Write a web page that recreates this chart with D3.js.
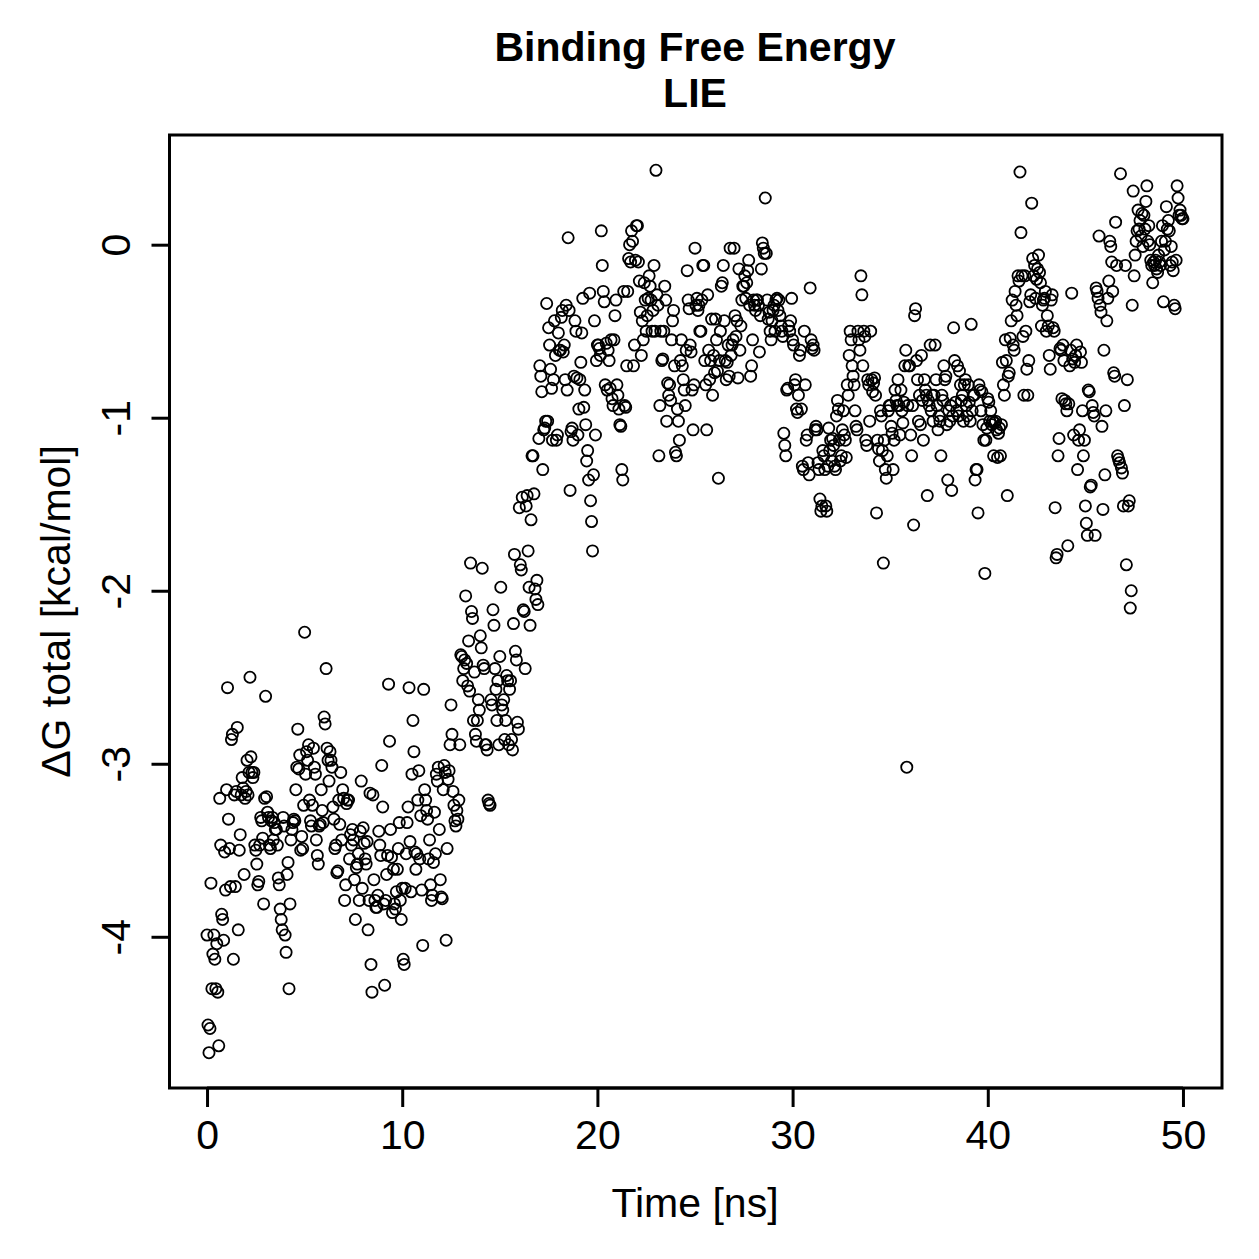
<!DOCTYPE html>
<html>
<head>
<meta charset="utf-8">
<script src="https://cdn.jsdelivr.net/npm/d3@7"></script>
<style>
  body { margin: 0; background: #fff; }
  svg text { font-family: "Liberation Sans", Arial, Helvetica, sans-serif; fill: #000; }
</style>
</head>
<body>
<div id="chart"></div>
<script>
/* values: one row per ns, samples every 0.05 ns */
const sampleStep = 0.05;

const dg0to10 = [
  [-3.99,-4.51,-4.67,-4.53,-3.69,-4.30,-4.10,-3.99,-4.13,-4.30,-4.04,-4.32,-4.63,-3.20,-3.47,-3.87,-3.90,-4.02,-3.51,-3.73],
  [-3.15,-2.56,-3.32,-3.49,-3.71,-2.86,-2.83,-4.13,-3.18,-3.71,-3.16,-2.79,-3.96,-3.50,-3.41,-3.18,-3.08,-3.14,-3.64,-3.20],
  [-3.16,-2.98,-3.18,-3.05,-2.50,-2.96,-3.05,-3.08,-3.05,-3.47,-3.50,-3.58,-3.70,-3.68,-3.47,-3.31,-3.33,-3.43,-3.81,-3.20],
  [-2.61,-3.19,-3.28,-3.31,-3.47,-3.49,-3.33,-3.31,-3.44,-3.34,-3.38,-3.38,-3.47,-3.66,-3.70,-3.84,-3.90,-3.96,-3.31,-3.36],
  [-3.99,-4.09,-3.64,-3.57,-4.30,-3.81,-3.44,-3.38,-3.34,-3.32,-3.33,-3.15,-3.02,-2.80,-3.03,-2.95,-3.50,-3.42,-3.49,-3.24],
  [-2.24,-3.06,-2.93,-2.98,-2.89,-3.21,-3.33,-3.36,-3.24,-2.91,-3.02,-3.06,-3.44,-3.53,-3.58,-3.36,-3.35,-3.15,-3.27,-3.34],
  [-2.73,-2.77,-2.45,-2.91,-2.98,-3.10,-2.93,-2.98,-3.02,-3.25,-3.32,-3.49,-3.47,-3.63,-3.62,-3.21,-3.35,-3.05,-3.44,-3.15],
  [-3.20,-3.79,-3.70,-3.23,-3.21,-3.21,-3.55,-3.41,-3.47,-3.38,-3.44,-3.67,-3.90,-3.60,-3.58,-3.52,-3.79,-3.39,-3.10,-3.72],
  [-3.37,-3.46,-3.55,-3.58,-3.45,-3.96,-3.79,-3.17,-4.16,-4.32,-3.18,-3.67,-3.79,-3.83,-3.83,-3.76,-3.39,-3.47,-3.53,-3.01],
  [-3.25,-3.81,-4.28,-3.79,-3.64,-3.53,-2.54,-2.87,-3.38,-3.54,-3.86,-3.61,-3.81,-3.84,-3.74,-3.61,-3.49,-3.34,-3.79,-3.90]
];

const dg10to20 = [
  [-3.72,-4.13,-4.16,-3.72,-3.52,-3.34,-3.25,-2.56,-3.45,-3.74,-3.06,-2.75,-2.93,-3.51,-3.61,-3.52,-3.21,-3.04,-3.55,-3.30],
  [-3.73,-4.05,-2.57,-3.15,-3.21,-3.27,-3.32,-3.55,-3.44,-3.70,-3.79,-3.76,-3.57,-3.28,-3.52,-3.06,-3.10,-3.02,-3.38,-3.67],
  [-3.77,-3.78,-3.15,-3.01,-3.05,-4.02,-3.49,-3.09,-3.04,-2.89,-2.66,-2.83,-3.16,-3.24,-3.33,-3.36,-3.27,-3.32,-3.21,-2.89],
  [-2.37,-2.38,-2.52,-2.45,-2.40,-2.03,-2.42,-2.55,-2.29,-2.58,-1.84,-2.12,-2.16,-2.75,-2.47,-2.83,-2.87,-2.75,-2.63,-2.69],
  [-2.26,-2.33,-1.87,-2.43,-2.45,-2.89,-2.89,-2.92,-3.21,-3.23,-3.24,-2.63,-2.66,-2.11,-2.20,-2.45,-2.57,-2.75,-2.52,-2.89],
  [-2.38,-1.98,-2.66,-2.69,-2.63,-2.86,-2.75,-2.49,-2.52,-2.89,-2.57,-2.52,-2.86,-2.92,-2.19,-1.79,-2.35,-2.40,-2.76,-2.80],
  [-1.52,-1.85,-1.88,-1.46,-2.11,-2.12,-2.45,-1.51,-1.45,-1.77,-1.98,-2.20,-1.59,-1.22,-1.22,-1.44,-1.99,-2.05,-1.94,-2.08],
  [-1.12,-0.70,-0.76,-0.85,-1.30,-1.07,-1.06,-1.02,-0.34,-1.02,-0.48,-0.58,-0.72,-0.83,-1.13,-0.78,-0.44,-0.64,-1.13,-1.10],
  [-0.51,-0.61,-0.61,-0.42,-0.38,-0.62,-0.58,-0.78,-0.35,-0.84,0.04,-0.38,-1.42,-1.08,-1.06,-1.13,-0.76,-0.44,-0.50,-0.77],
  [-1.10,-0.95,-0.78,-0.68,-0.51,-0.31,-0.94,-0.84,-1.04,-1.25,-1.19,-1.36,-0.28,-1.48,-1.60,-1.77,-1.33,-0.44,-1.10,-0.67]
];

const dg20to30 = [
  [-0.58,-0.58,-0.60,-0.64,0.08,-0.12,-0.27,-0.33,-0.81,-0.57,-0.84,-0.61,-0.67,-0.83,-0.55,-0.89,-0.93,-0.55,-0.41,-0.32],
  [-0.81,-0.87,-0.95,-1.04,-1.05,-1.30,-1.36,-0.27,-0.93,-0.94,-0.70,-0.27,-0.08,0.00,-0.10,0.08,0.02,-0.70,-0.58,-0.09],
  [0.11,0.11,-0.10,-0.21,-0.39,-0.64,-0.44,-0.55,-0.22,-0.32,-0.50,-0.41,-0.31,-0.18,-0.24,-0.32,-0.50,-0.38,-0.12,-0.50],
  [0.43,-0.29,-0.35,-1.22,-0.93,-0.50,-0.67,-0.66,-0.50,-0.24,-0.32,-1.02,-0.80,-0.87,-0.81,-0.90,-0.55,-0.44,-0.38,-0.70],
  [-1.20,-1.22,-0.95,-1.02,-1.13,-0.67,-0.55,-0.70,-0.78,-0.84,-0.93,-0.61,-0.15,-0.32,-0.37,-0.58,-0.62,-0.84,-1.07,-0.81],
  [-0.02,-0.35,-0.31,-0.38,-0.35,-0.50,-0.50,-0.32,-0.12,-0.12,-0.67,-0.81,-1.07,-0.29,-0.61,-0.78,-0.67,-0.43,-0.87,-0.64],
  [-0.74,-0.43,-0.55,-0.73,-1.35,-0.67,-0.50,-0.24,-0.22,-0.12,-0.44,-0.67,-0.78,-0.68,-0.58,-0.76,-0.02,-0.64,-0.58,-0.55],
  [-0.02,-0.41,-0.53,-0.44,-0.77,-0.14,-0.61,-0.47,-0.32,-0.24,-0.24,-0.18,-0.31,-0.22,-0.15,-0.09,-0.35,-0.76,-0.70,-0.55],
  [-0.32,-0.35,-0.38,-0.32,-0.32,-0.35,-0.62,-0.41,-0.14,0.01,-0.02,-0.05,0.27,-0.05,-0.32,-0.43,-0.39,-0.50,-0.55,-0.44],
  [-0.38,-0.35,-0.50,-0.32,-0.31,-0.38,-0.32,-0.41,-0.47,-0.50,-0.53,-1.09,-1.16,-1.22,-0.84,-0.83,-0.47,-0.50,-0.44,-0.31]
];

const dg30to40 = [
  [-0.55,-0.58,-0.81,-0.78,-0.95,-0.97,-0.87,-0.64,-0.61,-0.95,-1.28,-1.30,-0.50,-0.81,-1.13,-1.10,-1.26,-1.33,-0.25,-0.55],
  [-0.60,-0.58,-0.61,-1.07,-1.05,-1.07,-1.26,-1.30,-1.47,-1.54,-1.51,-1.19,-1.22,-1.30,-1.51,-1.54,-1.28,-1.06,-1.19,-1.13],
  [-1.25,-1.12,-1.16,-1.28,-1.30,-0.99,-0.90,-0.95,-1.13,-1.25,-1.22,-1.07,-0.96,-1.10,-1.13,-1.23,-0.81,-0.87,-0.64,-0.50],
  [-0.55,-0.70,-0.76,-0.81,-0.96,-1.05,-1.07,-0.50,-0.55,-0.61,-0.18,-0.29,-0.70,-0.50,-0.53,-1.13,-1.16,-0.78,-0.81,-1.02],
  [-0.50,-0.78,-0.85,-0.80,-0.77,-0.87,-1.55,-1.13,-1.18,-1.25,-0.96,-0.99,-1.19,-1.84,-1.13,-1.30,-1.35,-1.22,-0.96,-0.93],
  [-0.93,-1.05,-1.09,-1.30,-1.13,-0.84,-0.90,-0.93,-0.78,-0.93,-1.10,-0.84,-0.96,-1.03,-0.91,-0.70,-0.61,-3.02,-0.93,-0.70],
  [-0.70,-1.10,-1.22,-0.93,-1.62,-0.41,-0.37,-0.67,-0.78,-1.02,-0.87,-1.04,-0.64,-0.90,-1.13,-0.78,-0.84,-0.87,-1.45,-0.90],
  [-0.93,-0.58,-0.96,-0.87,-1.02,-0.87,-0.58,-0.78,-0.93,-1.07,-0.99,-1.02,-1.22,-0.87,-0.90,-0.70,-0.78,-0.76,-1.04,-1.36],
  [-0.96,-1.02,-0.93,-1.42,-0.99,-0.48,-0.67,-0.91,-0.96,-0.70,-0.99,-0.73,-0.81,-0.90,-0.87,-1.02,-0.81,-0.78,-0.93,-0.99],
  [-0.81,-0.91,-1.02,-0.46,-0.96,-0.87,-0.87,-1.36,-1.30,-1.30,-1.55,-0.81,-0.84,-0.96,-0.85,-1.04,-1.13,-1.90,-1.13,-1.06]
];

const dg40to50 = [
  [-0.89,-0.91,-1.02,-0.96,-1.04,-1.02,-1.22,-1.03,-1.02,-1.07,-1.23,-1.09,-1.06,-1.22,-1.04,-0.68,-0.81,-0.87,-0.55,-0.67],
  [-1.45,-0.76,-0.74,-0.54,-0.44,-0.32,-0.58,-0.61,-0.27,-0.35,-0.41,-0.18,-0.21,0.42,0.07,-0.18,-0.53,-0.87,-0.18,-0.50],
  [-0.72,-0.87,-0.67,-0.33,-0.29,0.24,-0.08,-0.18,-0.12,-0.31,-0.20,-0.14,-0.06,-0.16,-0.22,-0.47,-0.35,-0.32,-0.31,-0.27],
  [-0.50,-0.41,-0.47,-0.64,-0.72,-0.32,-0.29,-0.48,-0.50,-1.52,-1.81,-1.79,-1.22,-1.12,-0.60,-0.61,-0.89,-0.58,-0.67,-0.90],
  [-0.92,-0.96,-1.74,-0.92,-0.70,-0.61,-0.28,-0.66,-1.10,-0.68,-0.64,-0.58,-1.30,-1.13,-1.07,-0.62,-0.68,-0.96,-1.22,-1.13],
  [-1.51,-1.61,-1.68,-0.84,-0.85,-1.40,-1.39,-0.93,-0.97,-0.99,-1.68,-0.25,-0.27,-0.31,0.05,-0.35,-0.39,-1.05,-1.53,-0.61],
  [-1.33,-0.96,-0.44,-0.31,-0.21,0.02,-0.01,-0.10,-0.27,-0.74,-0.76,0.13,-0.12,-1.22,-1.24,-1.26,0.41,-1.29,-1.32,-1.51],
  [-0.93,-0.12,-1.85,-0.78,-1.51,-1.48,-2.10,-2.00,-0.35,0.31,-0.18,-0.06,0.02,0.08,0.20,0.09,0.14,0.05,0.18,-0.01],
  [0.17,0.09,0.25,0.34,0.02,0.11,0.00,-0.09,-0.12,-0.22,-0.10,-0.12,-0.09,-0.14,-0.16,-0.06,-0.10,-0.12,0.02,0.11],
  [-0.33,-0.03,0.02,0.22,0.09,0.14,0.08,-0.12,-0.01,-0.10,-0.15,-0.35,-0.37,-0.09,0.34,0.27,0.17,0.20,0.17,0.15,0.15]
];

const xTicks = [0, 10, 20, 30, 40, 50];
const yTicks = [-4, -3, -2, -1, 0];

const titleLines = ["Binding Free Energy", "LIE"];
const xLabel = "Time [ns]";
const yLabel = "\u0394G total [kcal/mol]";

/* layout */
const width = 1259;
const height = 1259;
const margin = { top: 135, right: 37, bottom: 171, left: 168 };

/* flatten rows -> points */
const blocks = [dg0to10, dg10to20, dg20to30, dg30to40, dg40to50];
const points = [];
blocks.forEach((block, b) => {
  block.forEach((row, r) => {
    const start = b * 10 + r;
    row.forEach((v, j) => points.push({ t: start + j * sampleStep, dg: v }));
  });
});

/* R style axis range: data extent padded by 4% */
function rRange(ext) {
  const pad = (ext[1] - ext[0]) * 0.04;
  return [ext[0] - pad, ext[1] + pad];
}

const x = d3.scaleLinear()
  .domain(rRange(d3.extent(points, d => d.t)))
  .range([margin.left, width - margin.right]);

const y = d3.scaleLinear()
  .domain(rRange(d3.extent(points, d => d.dg)))
  .range([height - margin.bottom, margin.top]);

const svg = d3.select("#chart")
  .append("svg")
  .attr("width", width)
  .attr("height", height);

/* points, open circles like pch = 1 */
svg.append("g")
  .selectAll("circle")
  .data(points)
  .join("circle")
  .attr("cx", d => x(d.t))
  .attr("cy", d => y(d.dg))
  .attr("r", 5.6)
  .attr("fill", "none")
  .attr("stroke", "#000")
  .attr("stroke-width", 1.8);

/* box */
svg.append("rect")
  .attr("x", margin.left + 1.5)
  .attr("y", margin.top)
  .attr("width", width - margin.left - margin.right - 1.5)
  .attr("height", height - margin.top - margin.bottom)
  .attr("fill", "none")
  .attr("stroke", "#000")
  .attr("stroke-width", 3);

/* x axis */
const xAxis = svg.append("g")
  .attr("transform", `translate(0, ${height - margin.bottom})`)
  .call(d3.axisBottom(x).tickValues(xTicks).tickSize(19).tickPadding(13));
xAxis.select(".domain")
  .attr("d", `M${x(xTicks[0])},0H${x(xTicks[xTicks.length - 1])}`)
  .attr("stroke-width", 3);
xAxis.selectAll(".tick line").attr("stroke-width", 3);
xAxis.selectAll(".tick text")
  .attr("font-size", 41)
  .attr("font-family", "Liberation Sans, Arial, sans-serif")
  .text(d => String(d));

/* y axis, labels parallel to axis like R */
const yAxis = svg.append("g")
  .attr("transform", `translate(${margin.left + 1.5}, 0)`)
  .call(d3.axisLeft(y).tickValues(yTicks).tickSize(18));
yAxis.select(".domain")
  .attr("d", `M0,${y(yTicks[0])}V${y(yTicks[yTicks.length - 1])}`)
  .attr("stroke-width", 3);
yAxis.selectAll(".tick line").attr("stroke-width", 3);
yAxis.selectAll(".tick text")
  .attr("x", null).attr("dy", null)
  .attr("transform", "translate(-40, 0) rotate(-90)")
  .attr("text-anchor", "middle")
  .attr("font-size", 41)
  .attr("font-family", "Liberation Sans, Arial, sans-serif")
  .text(d => String(d));

/* title */
const cx = (margin.left + width - margin.right) / 2;
svg.append("text")
  .attr("x", cx).attr("y", 61)
  .attr("text-anchor", "middle")
  .attr("font-size", 41).attr("font-weight", "bold")
  .text(titleLines[0]);
svg.append("text")
  .attr("x", cx).attr("y", 107)
  .attr("text-anchor", "middle")
  .attr("font-size", 41).attr("font-weight", "bold")
  .text(titleLines[1]);

/* axis labels */
svg.append("text")
  .attr("x", cx).attr("y", 1217)
  .attr("text-anchor", "middle")
  .attr("font-size", 41)
  .text(xLabel);

svg.append("text")
  .attr("transform", `translate(70, ${(margin.top + height - margin.bottom) / 2}) rotate(-90)`)
  .attr("text-anchor", "middle")
  .attr("font-size", 41)
  .text(yLabel);
</script>
</body>
</html>
